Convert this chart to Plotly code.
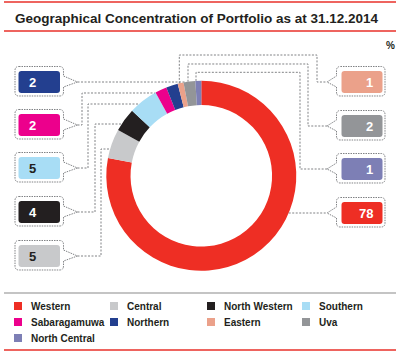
import math
import plotly.graph_objects as go

# ---------------- data ----------------
labels = ["Western", "Central", "North Western", "Southern", "Sabaragamuwa",
          "Northern", "Eastern", "Uva", "North Central"]
values = [78, 5, 4, 5, 2, 2, 1, 2, 1]
colors = ["#EE2E24", "#C8C9CB", "#231F20", "#A8DDF5", "#EC008C",
          "#233F8F", "#EBA18A", "#939598", "#7D7FB5"]
title_text = "Geographical Concentration of Portfolio as at 31.12.2014"
unit_text = "%"

# ---------------- layout constants (pixels) ----------------
W, H = 400, 355
CX, CY, R = 201.3, 175.8, 95.0
HOLE = 0.745
LINE_COL = "#808285"
DARK = "#231F20"


def X(px):
    return px / W


def Y(py):
    return 1 - py / H


fig = go.Figure()
fig.add_trace(go.Pie(
    labels=labels, values=values, sort=False, direction="clockwise", rotation=0,
    hole=HOLE, marker=dict(colors=colors, line=dict(width=0)),
    textinfo="none", hoverinfo="label+value", showlegend=False,
    domain=dict(x=[X(CX - R), X(CX + R)], y=[Y(CY + R), Y(CY - R)]),
))

shapes = []
annotations = []


def line_path(points):
    return "M" + " L".join(f"{X(x):.5f},{Y(y):.5f}" for x, y in points)


def add_conn(points):
    shapes.append(dict(type="path", xref="paper", yref="paper", path=line_path(points),
                       line=dict(color=LINE_COL, width=1, dash="2px,1.5px")))


def rrect(x0, y0, x1, y1, r):
    p = [("M", x0 + r, y0), ("L", x1 - r, y0), ("Q", x1, y0, x1, y0 + r),
         ("L", x1, y1 - r), ("Q", x1, y1, x1 - r, y1), ("L", x0 + r, y1),
         ("Q", x0, y1, x0, y1 - r), ("L", x0, y0 + r), ("Q", x0, y0, x0 + r, y0)]
    return p


def to_path(cmds):
    s = ""
    for c in cmds:
        op = c[0]
        nums = c[1:]
        pts = []
        for i in range(0, len(nums), 2):
            pts.append(f"{X(nums[i]):.5f},{Y(nums[i+1]):.5f}")
        s += op + " ".join(pts) + " "
    return s + "Z"


def bubble(x0, y0, x1, y1, r, side, tip_x, cy):
    if side == "left":  # box on the left, pointer on right edge
        cmds = [("M", x0 + r, y0), ("L", x1 - r, y0), ("Q", x1, y0, x1, y0 + r),
                ("L", x1, cy - 6), ("L", tip_x, cy), ("L", x1, cy + 5),
                ("L", x1, y1 - r), ("Q", x1, y1, x1 - r, y1), ("L", x0 + r, y1),
                ("Q", x0, y1, x0, y1 - r), ("L", x0, y0 + r), ("Q", x0, y0, x0 + r, y0)]
    else:
        cmds = [("M", x0 + r, y0), ("L", x1 - r, y0), ("Q", x1, y0, x1, y0 + r),
                ("L", x1, y1 - r), ("Q", x1, y1, x1 - r, y1), ("L", x0 + r, y1),
                ("Q", x0, y1, x0, y1 - r), ("L", x0, cy + 5), ("L", tip_x, cy),
                ("L", x0, cy - 6), ("L", x0, y0 + r), ("Q", x0, y0, x0 + r, y0)]
    return to_path(cmds)


def ring_x_left(y):
    return CX - math.sqrt(max(R * R - (y - CY) ** 2, 0))


def ring_x_right(y):
    return CX + math.sqrt(max(R * R - (y - CY) ** 2, 0))


def ring_y_top(x):
    return CY - math.sqrt(max(R * R - (x - CX) ** 2, 0))


light = {"Southern", "Central"}

# left callouts: (label, box centre y, elbow x, level y)
left_callouts = [("Northern", 82, None, 82), ("Sabaragamuwa", 125, 82, 93),
                 ("Southern", 168, 88, 104), ("North Western", 212, 95, 124),
                 ("Central", 256, 101, 149)]
# right callouts: (label, box centre y, vertical x, top y, elbow x)
right_callouts = [("Eastern", 82, 179.3, 55, 317), ("Uva", 126, 188, 64, 308),
                  ("North Central", 169, 196, 72.3, 300), ("Western", 213, None, None, None)]

LTIP, RTIP = 77.5, 327

for lab, cy, ex, ly in left_callouts:
    i = labels.index(lab)
    rx = ring_x_left(ly)
    if ex is None:
        add_conn([(LTIP, cy), (rx, ly)])
    else:
        add_conn([(LTIP, cy), (ex, cy), (ex, ly), (rx, ly)])
    shapes.append(dict(type="path", xref="paper", yref="paper",
                       path=bubble(15, cy - 15.5, 63.5, cy + 14, 4, "left", LTIP, cy),
                       line=dict(color=LINE_COL, width=1, dash="1.5px,1px")))
    shapes.append(dict(type="path", xref="paper", yref="paper",
                       path=to_path(rrect(18.5, cy - 11, 60, cy + 11, 3)),
                       fillcolor=colors[i], line=dict(width=0)))
    annotations.append(dict(x=X(27), y=Y(cy + 0.5), xref="paper", yref="paper",
                            xanchor="left", yanchor="middle", showarrow=False,
                            text=f"<b>{values[i]}</b>",
                            font=dict(family="Liberation Sans, Arial", size=13,
                                      color=DARK if lab in light else "white")))

for lab, cy, vx, ty, ex in right_callouts:
    i = labels.index(lab)
    if vx is None:
        add_conn([(ring_x_right(cy), cy), (RTIP, cy)])
    else:
        add_conn([(vx, ring_y_top(vx)), (vx, ty), (ex, ty), (ex, cy), (RTIP, cy)])
    shapes.append(dict(type="path", xref="paper", yref="paper",
                       path=bubble(336.5, cy - 15.5, 385, cy + 14, 4, "right", RTIP, cy),
                       line=dict(color=LINE_COL, width=1, dash="1.5px,1px")))
    shapes.append(dict(type="path", xref="paper", yref="paper",
                       path=to_path(rrect(341.5, cy - 11, 382.5, cy + 11, 3)),
                       fillcolor=colors[i], line=dict(width=0)))
    annotations.append(dict(x=X(374.5), y=Y(cy + 0.5), xref="paper", yref="paper",
                            xanchor="right", yanchor="middle", showarrow=False,
                            text=f"<b>{values[i]}</b>",
                            font=dict(family="Liberation Sans, Arial", size=13,
                                      color="white")))

# frame lines
for y, col, wd in [(2, "#E8312A", 1.5), (31, "#E8312A", 1.5), (293, "#8A8A8A", 1.2), (350, "#E8312A", 1.5)]:
    shapes.append(dict(type="line", xref="paper", yref="paper", x0=X(4), x1=X(396),
                       y0=Y(y), y1=Y(y), line=dict(color=col, width=wd)))

# title and unit
annotations.append(dict(x=X(12.5), y=Y(18.5), xref="paper", yref="paper", xanchor="left",
                        yanchor="middle", showarrow=False, text=f"<b>{title_text}</b>",
                        font=dict(family="Liberation Sans, Arial", size=13.5, color=DARK)))
annotations.append(dict(x=X(390.5), y=Y(45), xref="paper", yref="paper", xanchor="center",
                        yanchor="middle", showarrow=False, text=f"<b>{unit_text}</b>",
                        font=dict(family="Liberation Sans, Arial", size=10, color=DARK)))

# legend (manual grid)
col_x = [14, 110, 207, 302]
row_y = [306, 322, 338]
for k, lab in enumerate(labels):
    cx = col_x[k % 4]
    ry = row_y[k // 4]
    shapes.append(dict(type="rect", xref="paper", yref="paper", x0=X(cx), x1=X(cx + 8),
                       y0=Y(ry - 4), y1=Y(ry + 4), fillcolor=colors[k], line=dict(width=0)))
    annotations.append(dict(x=X(cx + 15), y=Y(ry), xref="paper", yref="paper", xanchor="left",
                            yanchor="middle", showarrow=False, text=f"<b>{lab}</b>",
                            font=dict(family="Liberation Sans, Arial", size=10, color=DARK)))

fig.update_layout(width=W, height=H, margin=dict(l=0, r=0, t=0, b=0),
                  paper_bgcolor="white", plot_bgcolor="white",
                  shapes=shapes, annotations=annotations, showlegend=False)
fig.write_html("out.html", config={"displayModeBar": False},
               post_script="document.body.style.margin='0';document.body.style.padding='0';")
